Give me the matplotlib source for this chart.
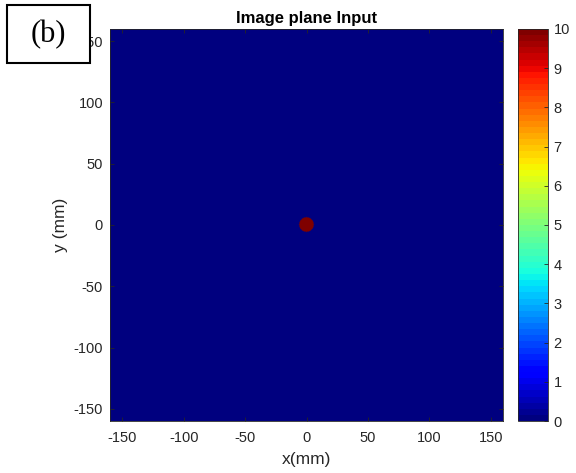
import numpy as np
import matplotlib
matplotlib.use("Agg")
import matplotlib.pyplot as plt
from matplotlib.patches import Rectangle

# Data
x_range = [-160, 160]          # mm
y_range = [-160, 160]          # mm
grid_step = 0.5                # mm per pixel
source_center = (0.0, 0.0)     # mm
source_radius = 6.0            # mm
source_value = 10.0
background_value = 0.0
clim = [0, 10]
xticks = [-150, -100, -50, 0, 50, 100, 150]
yticks = [-150, -100, -50, 0, 50, 100, 150]
cbar_ticks = [0, 1, 2, 3, 4, 5, 6, 7, 8, 9, 10]
title = "Image plane Input"
xlabel = "x(mm)"
ylabel = "y (mm)"
panel_label = "(b)"

xs = np.arange(x_range[0], x_range[1] + grid_step, grid_step)
ys = np.arange(y_range[0], y_range[1] + grid_step, grid_step)
X, Y = np.meshgrid(xs, ys)
img = np.full(X.shape, background_value)
img[(X - source_center[0])**2 + (Y - source_center[1])**2 <= source_radius**2] = source_value

plt.rcParams['font.family'] = ['Liberation Sans', 'DejaVu Sans']
plt.rcParams['axes.unicode_minus'] = False
gray = (0.15, 0.15, 0.15)

fig = plt.figure(figsize=(5.76, 4.73), dpi=100)
ax = fig.add_axes([110/576, 1 - 421/473, 393/576, 392/473])
cax = fig.add_axes([518/576, 1 - 421/473, 30/576, 392/473])

cmap = plt.get_cmap('jet', 64)
im = ax.imshow(img, cmap=cmap, vmin=clim[0], vmax=clim[1], origin='lower',
               extent=[x_range[0], x_range[1], y_range[0], y_range[1]],
               aspect='auto', interpolation='antialiased')
ax.set_xlim(x_range)
ax.set_ylim(y_range)
ax.set_xticks(xticks)
ax.set_yticks(yticks)
ax.tick_params(direction='in', top=True, right=True, labelsize=10.5,
               colors=gray, length=3, width=0.6)
ax.tick_params(axis='x', pad=7)
ax.tick_params(axis='y', pad=5)
for s in ax.spines.values():
    s.set_color(gray)
    s.set_linewidth(0.6)
ax.set_title(title, fontsize=12, fontweight='bold', color='black', pad=4)
ax.set_xlabel(xlabel, fontsize=12.5, color=gray, labelpad=5)
ax.set_ylabel(ylabel, fontsize=12.5, color=gray, labelpad=4)

cb = fig.colorbar(im, cax=cax, ticks=cbar_ticks)
cb.ax.tick_params(direction='in', labelsize=10.5, colors=gray, length=3, width=0.6, pad=4)
cb.outline.set_edgecolor(gray)
cb.outline.set_linewidth(0.6)

# Panel label box
fig.patches.append(Rectangle((7/576, 1 - 63/473), 83/576, 58/473,
                             transform=fig.transFigure, facecolor='white',
                             edgecolor='black', linewidth=1.5, zorder=10))
fig.text(48.5/576, 1 - 35/473, panel_label, ha='center', va='center',
         fontsize=22, family=['Liberation Serif', 'DejaVu Serif'], zorder=11)

fig.savefig("out.png", dpi=100)
